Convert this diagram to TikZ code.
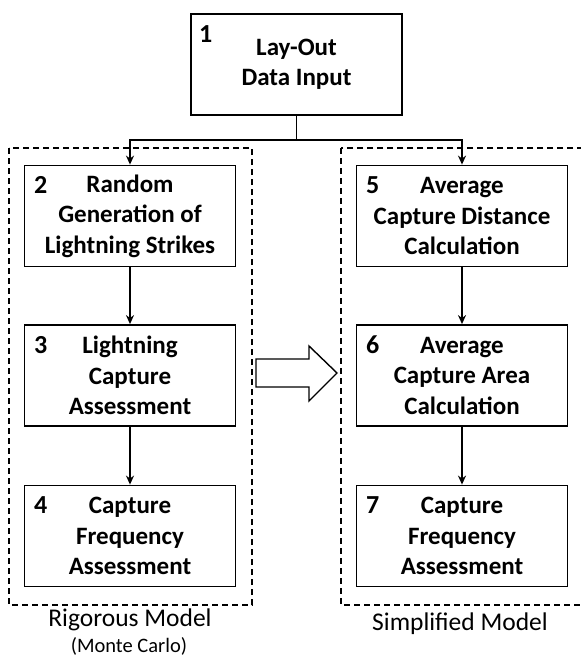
\documentclass[tikz,border=0pt]{standalone}
\usepackage{fontspec}
\setmainfont{Carlito}
\usetikzlibrary{arrows.meta}
\begin{document}
\begin{tikzpicture}[x=1pt,y=-1pt,
  stepbox/.style={draw=black,line width=1.8pt,fill=white,rectangle,minimum width=211pt,minimum height=101pt,inner sep=0pt,align=center,font=\fontsize{25}{30.5}\selectfont\bfseries},
  numlbl/.style={anchor=base west,inner sep=0pt,font=\fontsize{26}{26}\selectfont\bfseries},
  dashbox/.style={draw=black,line width=1.8pt,dash pattern=on 6pt off 4pt},
  conn/.style={line width=1.4pt,-{Stealth[length=9pt,width=8pt]}},
  caption/.style={inner sep=0pt,anchor=base,font=\fontsize{25.5}{25.5}\selectfont}
]
\useasboundingbox (0,0) rectangle (581,657);
\clip (0,0) rectangle (581,657);
% dashed containers
\draw[dashbox] (9,148) rectangle (252,605);
\draw[dashbox] (341,148) rectangle (590,605);
% boxes
\node[stepbox] (b1) at (296.5,64.5) {Lay-Out\\Data Input};
\node[stepbox] (b2) at (130,216) {Random\\Generation of\\Lightning Strikes};
\node[stepbox] (b3) at (130,375.5) {Lightning\\Capture\\Assessment};
\node[stepbox] (b4) at (130,536) {Capture\\Frequency\\Assessment};
\node[stepbox] (b5) at (462,216) {Average\\Capture Distance\\Calculation};
\node[stepbox] (b6) at (462,375.5) {Average\\Capture Area\\Calculation};
\node[stepbox] (b7) at (462,536) {Capture\\Frequency\\Assessment};
% numbers
\node[numlbl] (n1) at (199,42) {1};
\node[numlbl] (n2) at (34,193) {2};
\node[numlbl] (n3) at (34,353) {3};
\node[numlbl] (n4) at (34,513) {4};
\node[numlbl] (n5) at (366,193) {5};
\node[numlbl] (n6) at (366,353) {6};
\node[numlbl] (n7) at (366,513) {7};
% connectors
\coordinate (j) at (296.5,140);
\draw[line width=1.4pt] (b1.south) -- (j);
\draw[conn] (j) -| (b2.north);
\draw[conn] (j) -| (b5.north);
\draw[conn] (b2) -- (b3);
\draw[conn] (b3) -- (b4);
\draw[conn] (b5) -- (b6);
\draw[conn] (b6) -- (b7);
% hollow arrow
\draw[line width=1.4pt,fill=white,line join=miter]
  (256,359) -- (309,359) -- (309,346) -- (337,373) -- (309,401) -- (309,387) -- (256,387) -- cycle;
% captions
\node[caption] (c1) at (130,626) {Rigorous Model};
\node[caption,font=\fontsize{20.5}{20.5}\selectfont] (c2) at (129,652) {(Monte Carlo)};
\node[caption] (c3) at (460,630) {Simplified Model};
\end{tikzpicture}
\end{document}
